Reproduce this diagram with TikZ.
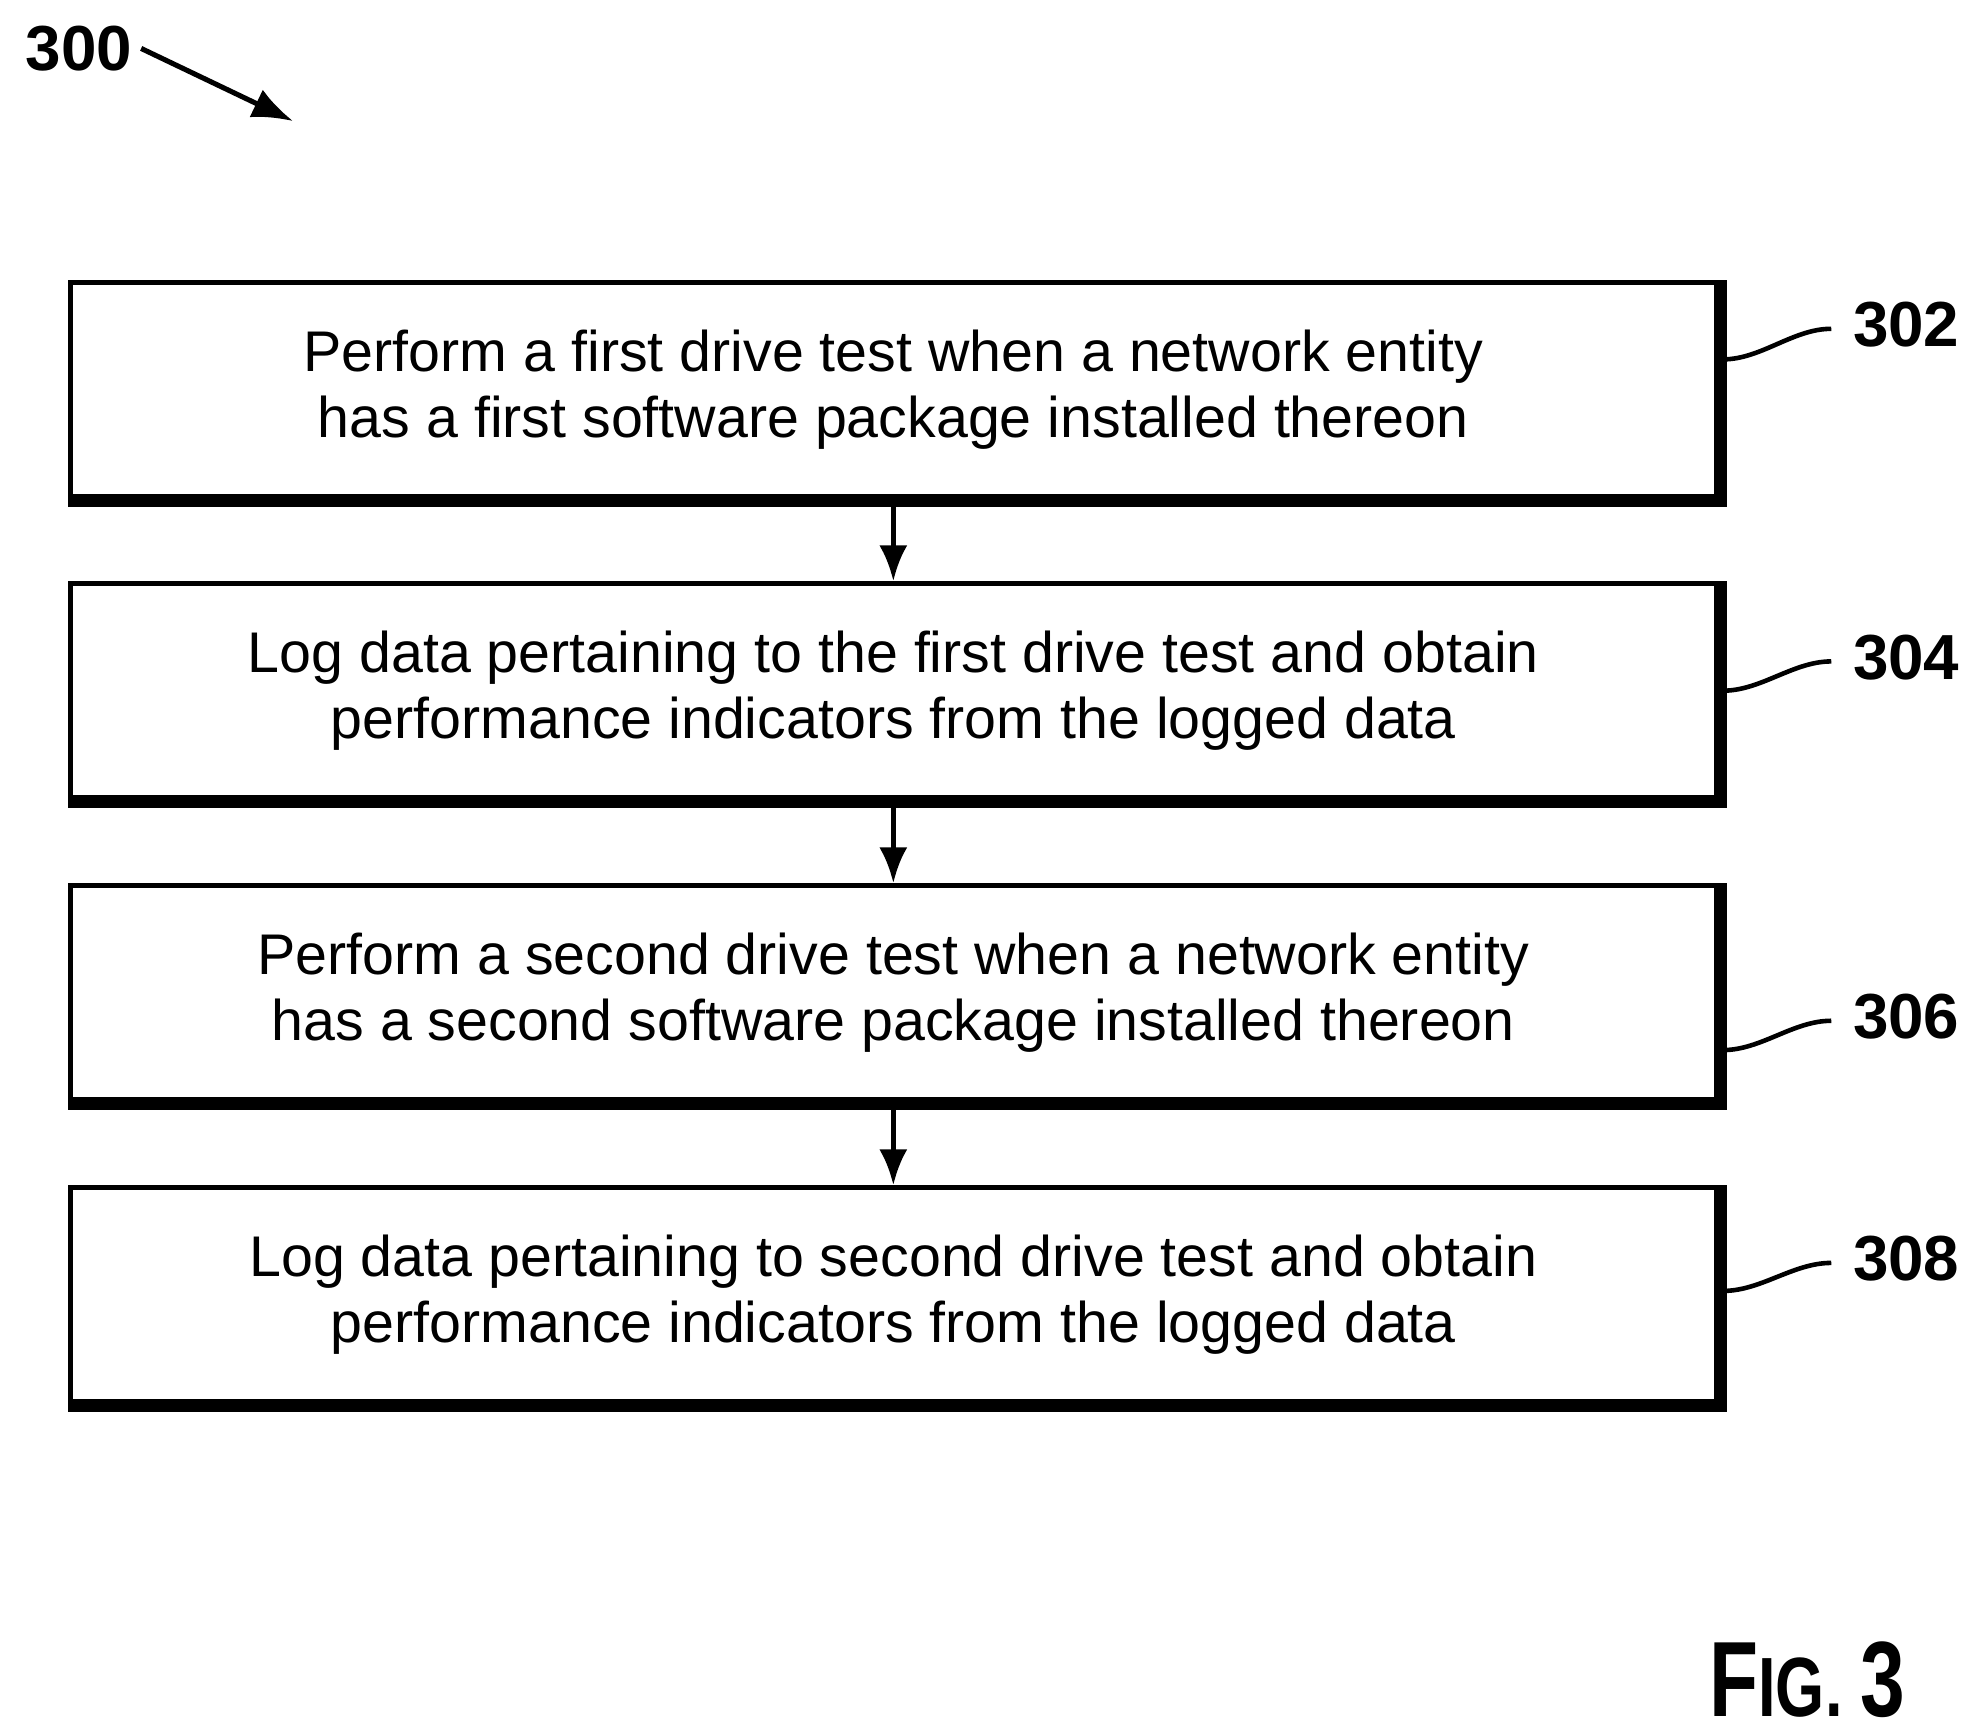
\documentclass[tikz,border=0pt]{standalone}
\usepackage{fontspec}
\setmainfont{Liberation Sans}
\usetikzlibrary{arrows.meta}
\begin{document}
\begin{tikzpicture}[x=0.5pt,y=-0.5pt,
 box/.style={draw,line width=2pt,minimum width=646pt,minimum height=84pt,align=center,font=\fontsize{22.5}{26}\selectfont,inner sep=0},
 lab/.style={font=\fontsize{25}{30}\selectfont\bfseries,anchor=west},
 arr/.style={line width=2pt,-{Latex[length=14pt,width=11pt]}}]
\useasboundingbox (0,0) rectangle (1560,1362);
\foreach \y/\n/\t in {306/a/{Perform a first drive test when a network entity\\has a first software package installed thereon},
 542/b/{Log data pertaining to the first drive test and obtain\\performance indicators from the logged data},
 779/c/{Perform a second drive test when a network entity\\has a second software package installed thereon},
 1016/d/{Log data pertaining to second drive test and obtain\\performance indicators from the logged data}}{
 \node[box,fill=white] (\n) at (701,\y) {\t};
 \draw[line width=3pt] ([xshift=1.5pt]\n.north east) -- ([xshift=1.5pt,yshift=-1.5pt]\n.south east) -- ([yshift=-1.5pt]\n.south west);
}
\draw[arr] (a) -- (b);
\draw[arr] (b) -- (c);
\draw[arr] (c) -- (d);
\foreach \n/\l/\ly/\sy in {a/302/25.5/12,b/304/13/0,c/306/-9.5/-22.5,d/308/14/1.5}{
 \node[lab] (l\l) at ([xshift=49pt,yshift=\ly pt]\n.east) {\l};
 \draw[line width=1.8pt] ([xshift=1.5pt,yshift=\sy pt]\n.east) .. controls +(15pt,0) and +(-15pt,0) .. ([xshift=-5pt,yshift=-1.5pt]l\l.west);
}
\node[font=\fontsize{25}{30}\selectfont\bfseries] (n300) at (62,38) {300};
\coordinate (t300) at (230,95);
\draw[line width=2pt,-{Latex[length=16pt,width=12pt]}] (n300.east) -- (t300);
\node[font=\bfseries,xscale=0.75] (fig) at (1418,1318) {\fontsize{42}{44}\selectfont F\fontsize{33}{36}\selectfont IG. \fontsize{42}{44}\selectfont 3};
\end{tikzpicture}
\end{document}
